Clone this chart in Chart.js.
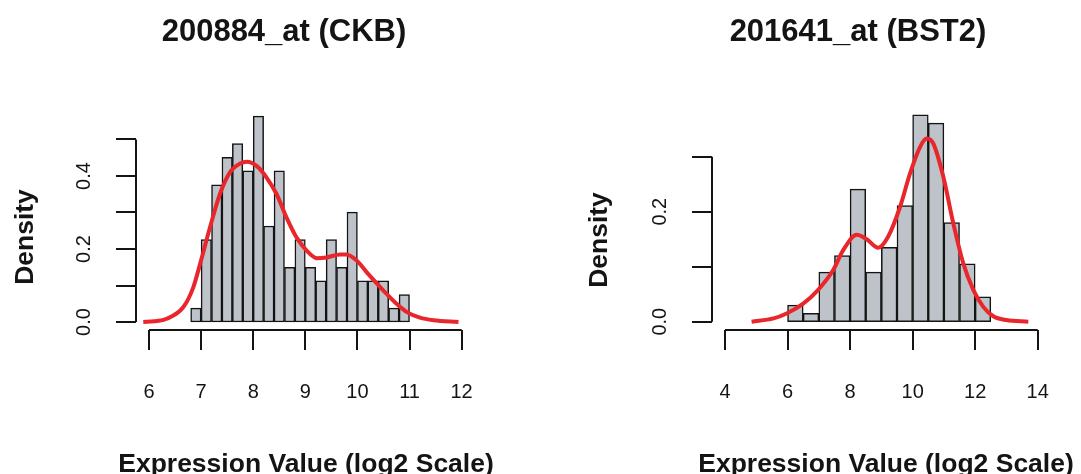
<!DOCTYPE html>
<html lang="en">
<head>
  <meta charset="UTF-8">
  <title>Expression histograms</title>
  <script src="https://cdn.jsdelivr.net/npm/chart.js"></script>
  <style>
    body { margin: 0; background: #fff; }
    canvas { position: absolute; top: 0; }
    #left { left: 0; }
    #right { left: 540px; }
  </style>
</head>
<body>
  <canvas id="left" width="540" height="474"></canvas>
  <canvas id="right" width="541" height="474"></canvas>

  <script>
    // ---- panel 1: 200884_at (CKB) ----
    const leftTitle = '200884_at (CKB)';
    const leftBinMids = [6.9, 7.1, 7.3, 7.5, 7.7, 7.9, 8.1, 8.3, 8.5, 8.7, 8.9,
                         9.1, 9.3, 9.5, 9.7, 9.9, 10.1, 10.3, 10.5, 10.7, 10.9];
    const leftDensity = [0.038, 0.226, 0.376, 0.451, 0.489, 0.414, 0.564, 0.263, 0.414, 0.150, 0.226,
                         0.150, 0.113, 0.226, 0.150, 0.301, 0.113, 0.113, 0.113, 0.038, 0.075];
    const leftKdeX = [5.89, 6.1, 6.34, 6.66, 6.85, 6.98, 7.17, 7.36, 7.55, 7.75, 7.88, 8.07, 8.26, 8.45,
                      8.64, 8.83, 9.03, 9.22, 9.41, 9.67, 9.79, 9.99, 10.18, 10.37, 10.56, 10.75,
                      10.95, 11.2, 11.46, 11.94];
    const leftKdeY = [0.0, 0.002, 0.009, 0.041, 0.095, 0.159, 0.259, 0.35, 0.409, 0.434, 0.439, 0.427, 0.395, 0.35,
                      0.286, 0.232, 0.195, 0.175, 0.177, 0.185, 0.185, 0.168, 0.136, 0.106, 0.077, 0.05,
                      0.027, 0.012, 0.005, 0.0];
    const leftXTicks = [6, 7, 8, 9, 10, 11, 12];
    const leftYTicks = [0, 0.1, 0.2, 0.3, 0.4, 0.5];
    const leftYLabels = ['0.0', '', '0.2', '', '0.4', ''];

    // ---- panel 2: 201641_at (BST2) ----
    const rightTitle = '201641_at (BST2)';
    const rightBinMids = [6.25, 6.75, 7.25, 7.75, 8.25, 8.75, 9.25, 9.75, 10.25, 10.75, 11.25, 11.75, 12.25];
    const rightDensity = [0.030, 0.015, 0.090, 0.120, 0.241, 0.090, 0.135, 0.211, 0.376, 0.361, 0.180, 0.105, 0.045];
    const rightKdeX = [4.85, 5.55, 5.97, 6.5, 6.98, 7.46, 7.78, 8.21, 8.53, 8.90, 9.22, 9.60, 9.92, 10.24,
                       10.45, 10.66, 10.98, 11.30, 11.62, 11.94, 12.26, 12.58, 13.0, 13.70];
    const rightKdeY = [0, 0.006, 0.015, 0.033, 0.058, 0.094, 0.130, 0.158, 0.150, 0.1345, 0.155, 0.209, 0.27, 0.318,
                       0.333, 0.324, 0.264, 0.179, 0.106, 0.058, 0.027, 0.010, 0.003, 0];
    const rightXTicks = [4, 6, 8, 10, 12, 14];
    const rightYTicks = [0, 0.1, 0.2, 0.3];
    const rightYLabels = ['0.0', '', '0.2', ''];

    const xLabel = 'Expression Value (log2 Scale)';
    const yLabel = 'Density';
    const FONT = '"Liberation Sans", Arial, Helvetica, sans-serif';
    const INK = '#141414';

    // R-style detached axes, drawn through the chart's own scales
    function rAxes(p) {
      return {
        id: 'rAxes',
        afterDraw(chart) {
          const { ctx, chartArea: a, scales: { x, y } } = chart;
          ctx.save();
          ctx.strokeStyle = INK;
          ctx.fillStyle = INK;
          ctx.lineWidth = 2;
          ctx.beginPath();
          ctx.moveTo(x.getPixelForValue(p.xTicks[0]), a.bottom);
          ctx.lineTo(x.getPixelForValue(p.xTicks[p.xTicks.length - 1]), a.bottom);
          p.xTicks.forEach(v => {
            const px = Math.round(x.getPixelForValue(v));
            ctx.moveTo(px, a.bottom);
            ctx.lineTo(px, a.bottom + 20);
          });
          ctx.moveTo(a.left, y.getPixelForValue(p.yTicks[0]));
          ctx.lineTo(a.left, y.getPixelForValue(p.yTicks[p.yTicks.length - 1]));
          p.yTicks.forEach(v => {
            const py = Math.round(y.getPixelForValue(v));
            ctx.moveTo(a.left, py);
            ctx.lineTo(a.left - 20, py);
          });
          ctx.stroke();

          ctx.font = '20px ' + FONT;
          ctx.textAlign = 'center';
          ctx.textBaseline = 'alphabetic';
          p.xTicks.forEach(v => ctx.fillText(String(v), x.getPixelForValue(v), a.bottom + 68));
          p.yTicks.forEach((v, i) => {
            if (!p.yLabels[i]) return;
            ctx.save();
            ctx.translate(a.left - 46, y.getPixelForValue(v));
            ctx.rotate(-Math.PI / 2);
            ctx.fillText(p.yLabels[i], 0, 0);
            ctx.restore();
          });

          ctx.font = 'bold 31px ' + FONT;
          ctx.fillText(p.title, p.titleX, 41);
          ctx.font = 'bold 26.5px ' + FONT;
          ctx.fillText(xLabel, p.xLabelX, 472);
          ctx.save();
          ctx.translate(p.yLabelX, p.yLabelY);
          ctx.rotate(-Math.PI / 2);
          ctx.fillText(yLabel, 0, 0);
          ctx.restore();
          ctx.restore();
        }
      };
    }

    function makeHist(id, p) {
      return new Chart(document.getElementById(id), {
        type: 'bar',
        data: {
          datasets: [{
            type: 'line',
            data: p.kdeX.map((v, i) => ({ x: v, y: p.kdeY[i] })),
            borderColor: '#e8262b',
            borderWidth: 4,
            pointRadius: 0,
            fill: false,
            cubicInterpolationMode: 'monotone',
            order: 0
          }, {
            data: p.mids.map((v, i) => ({ x: v, y: p.dens[i] })),
            backgroundColor: '#bec3ca',
            borderColor: INK,
            borderWidth: 1.5,
            borderSkipped: false,
            barPercentage: 1,
            categoryPercentage: 1,
            order: 1
          }]
        },
        options: {
          responsive: false,
          animation: false,
          events: [],
          layout: { padding: p.pad },
          scales: {
            x: { type: 'linear', display: false, offset: false, min: p.xMin, max: p.xMax },
            y: { type: 'linear', display: false, min: p.yMin, max: p.yMax }
          },
          plugins: { legend: { display: false }, tooltip: { enabled: false } }
        },
        plugins: [rAxes(p)]
      });
    }

    makeHist('left', {
      title: leftTitle, mids: leftBinMids, dens: leftDensity, kdeX: leftKdeX, kdeY: leftKdeY,
      xTicks: leftXTicks, yTicks: leftYTicks, yLabels: leftYLabels,
      pad: { left: 136, right: 540 - 475, top: 110, bottom: 474 - 330 },
      xMin: 5.7505, xMax: 12.257, yMin: -0.0219, yMax: 0.5808,
      titleX: 284, xLabelX: 306, yLabelX: 33, yLabelY: 237
    });

    makeHist('right', {
      title: rightTitle, mids: rightBinMids, dens: rightDensity, kdeX: rightKdeX, kdeY: rightKdeY,
      xTicks: rightXTicks, yTicks: rightYTicks, yLabels: rightYLabels,
      pad: { left: 172, right: 541 - 515, top: 110, bottom: 474 - 330 },
      xMin: 3.584, xMax: 14.553, yMin: -0.0151, yMax: 0.3849,
      titleX: 318, xLabelX: 346, yLabelX: 67, yLabelY: 240
    });
  </script>
</body>
</html>
